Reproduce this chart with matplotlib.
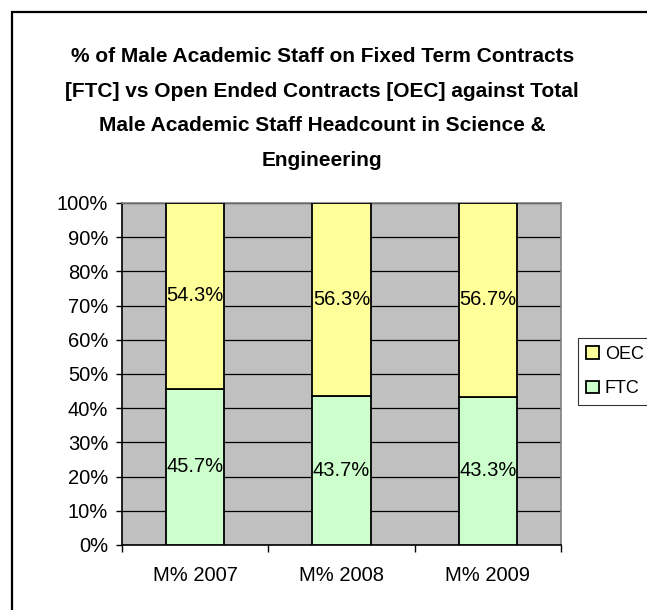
import matplotlib
matplotlib.use('Agg')
import matplotlib.pyplot as plt
from matplotlib.patches import Rectangle
from matplotlib.ticker import FixedLocator

plt.rcParams['font.family'] = ['Liberation Sans', 'DejaVu Sans']

categories = ['M% 2007', 'M% 2008', 'M% 2009']
ftc = [45.7, 43.7, 43.3]
oec = [54.3, 56.3, 56.7]
series_names = ['FTC', 'OEC']
title = ('% of Male Academic Staff on Fixed Term Contracts\n'
         '[FTC] vs Open Ended Contracts [OEC] against Total\n'
         'Male Academic Staff Headcount in Science &\n'
         'Engineering')

fig = plt.figure(figsize=(6.47, 6.10), dpi=100)
ax = fig.add_axes([0.1886, 0.1066, 0.6785, 0.5607])
ax.set_facecolor('#C0C0C0')

x = list(range(len(categories)))
b1 = ax.bar(x, ftc, width=0.4, color='#CCFFCC', edgecolor='black', linewidth=1.3,
            label=series_names[0], zorder=3)
b2 = ax.bar(x, oec, width=0.4, bottom=ftc, color='#FFFF99', edgecolor='black',
            linewidth=1.3, label=series_names[1], zorder=3)

for i in x:
    ax.text(i, ftc[i] / 2, f'{ftc[i]:.1f}%', ha='center', va='center', fontsize=14.5, zorder=4)
    ax.text(i, ftc[i] + oec[i] / 2, f'{oec[i]:.1f}%', ha='center', va='center', fontsize=14.5, zorder=4)

ax.set_xlim(-0.5, 2.5)
ax.set_ylim(0, 100)
ax.set_yticks(range(0, 101, 10))
ax.set_yticklabels([f'{v}%' for v in range(0, 101, 10)], fontsize=14.5)
ax.yaxis.grid(True, color='black', linewidth=0.9, zorder=0)
ax.set_axisbelow(True)

ax.set_xticks(x)
ax.set_xticklabels(categories, fontsize=14.5)
ax.xaxis.set_minor_locator(FixedLocator([-0.5, 0.5, 1.5, 2.5]))
ax.tick_params(axis='x', which='major', length=0, pad=15)
ax.tick_params(axis='x', which='minor', length=5, width=1, direction='out')
ax.tick_params(axis='y', length=4, width=1, direction='out', pad=6)

for side in ['left', 'bottom']:
    ax.spines[side].set_color('black')
    ax.spines[side].set_linewidth(1.2)
for side in ['top', 'right']:
    ax.spines[side].set_color('#808080')
    ax.spines[side].set_linewidth(1.2)

fig.text(0.498, 0.822, title, ha='center', va='center', fontsize=15,
         fontweight='bold', linespacing=2.05)

handles = [b2, b1]
leg = fig.legend(handles, [series_names[1], series_names[0]], loc='upper left',
                 bbox_to_anchor=(0.893, 0.446), borderaxespad=0, fontsize=13,
                 frameon=True, fancybox=False, edgecolor='black', handlelength=0.7,
                 handleheight=0.7, handletextpad=0.35, borderpad=0.45,
                 labelspacing=0.95)
leg.get_frame().set_linewidth(0.8)

frame = Rectangle((12 / 647, -0.05), 1.1, 0.98 + 0.05, transform=fig.transFigure,
                  fill=False, edgecolor='black', linewidth=1.6, clip_on=False)
fig.patches.append(frame)

fig.savefig('out.png', dpi=100)
